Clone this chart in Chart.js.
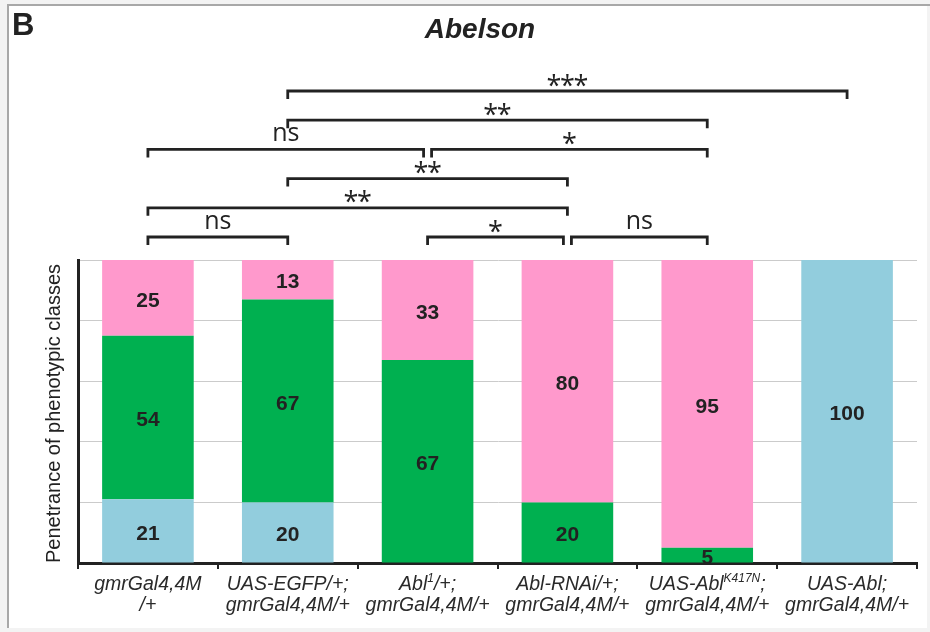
<!DOCTYPE html>
<html>
<head>
<meta charset="utf-8">
<script src="https://cdn.jsdelivr.net/npm/chart.js@4/dist/chart.umd.min.js"></script>
<style>
  html, body { margin: 0; padding: 0; background: #fff; }
  #wrap { width: 930px; height: 632px; }
</style>
</head>
<body>
<div id="wrap"><canvas id="c" width="930" height="632"></canvas></div>
<script>
// Genotypes (two text lines each, ^{...} marks a superscript)
const categories = [
  ['gmrGal4,4M', '/+'],
  ['UAS-EGFP/+;', 'gmrGal4,4M/+'],
  ['Abl^{1}/+;', 'gmrGal4,4M/+'],
  ['Abl-RNAi/+;', 'gmrGal4,4M/+'],
  ['UAS-Abl^{K417N};', 'gmrGal4,4M/+'],
  ['UAS-Abl;', 'gmrGal4,4M/+']
];
// Percent of flies in each phenotypic class
const blueValues  = [21, 20, 0, 0, 0, 100];
const greenValues = [54, 67, 67, 20, 5, 0];
const pinkValues  = [25, 13, 33, 80, 95, 0];
const yTicks = [0, 20, 40, 60, 80, 100];

// Pairwise tests: [first genotype, second genotype, result, stacking tier]
const comparisons = [
  [0, 1, 'ns', 0], [2, 3, '*', 0], [3, 4, 'ns', 0],
  [0, 3, '**', 1],
  [1, 3, '**', 2],
  [0, 2, 'ns', 3], [2, 4, '*', 3],
  [1, 4, '**', 4],
  [1, 5, '***', 5]
];

const plainLabels = categories.map(l => l.map(s => s.replace(/\^\{([^}]*)\}/g, '$1')));

const COLORS = { blue: '#92cddd', green: '#00b050', pink: '#ff99cc' };
const INK = '#222';

function drawRich(ctx, text, cx, baseline, size) {
  const parts = text.split(/(\^\{[^}]*\})/).filter(p => p.length);
  const supSize = Math.round(size * 0.62);
  const pieces = parts.map(p => {
    const sup = p.startsWith('^{');
    const t = sup ? p.slice(2, -1) : p;
    ctx.font = `italic ${sup ? supSize : size}px "Liberation Sans", Arial, sans-serif`;
    return { t, sup, w: ctx.measureText(t).width };
  });
  const total = pieces.reduce((a, p) => a + p.w, 0);
  let x = cx - total / 2;
  ctx.textAlign = 'left';
  ctx.textBaseline = 'alphabetic';
  for (const p of pieces) {
    ctx.font = `italic ${p.sup ? supSize : size}px "Liberation Sans", Arial, sans-serif`;
    ctx.fillText(p.t, x, p.sup ? baseline - size * 0.42 : baseline);
    x += p.w;
  }
}

const decor = {
  id: 'decor',
  beforeDraw(chart) {
    const ctx = chart.ctx;
    ctx.save();
    ctx.fillStyle = '#f3f3f3';
    ctx.fillRect(0, 0, chart.width, chart.height);
    ctx.fillStyle = '#ffffff';
    ctx.fillRect(8, 5, 919, 623);
    ctx.strokeStyle = '#a8a8a8';
    ctx.lineWidth = 2;
    ctx.beginPath();
    ctx.moveTo(8, 5); ctx.lineTo(chart.width, 5);
    ctx.moveTo(8, 4); ctx.lineTo(8, 628);
    ctx.stroke();
    ctx.restore();
  },
  afterDatasetsDraw(chart) {
    const ctx = chart.ctx;
    ctx.save();
    ctx.font = 'bold 21px "Liberation Sans", Arial, sans-serif';
    ctx.fillStyle = INK;
    ctx.textAlign = 'center';
    ctx.textBaseline = 'middle';
    chart.data.datasets.forEach((ds, di) => {
      const meta = chart.getDatasetMeta(di);
      meta.data.forEach((bar, i) => {
        const v = ds.data[i];
        if (!v) return;
        ctx.fillText(String(v), bar.x, (bar.y + bar.base) / 2 + 3);
      });
    });
    ctx.restore();
  },
  afterDraw(chart) {
    const ctx = chart.ctx;
    const xs = chart.scales.x;
    const area = chart.chartArea;
    ctx.save();
    ctx.fillStyle = INK;

    // panel letter and title
    ctx.textAlign = 'left';
    ctx.textBaseline = 'alphabetic';
    ctx.font = 'bold 31px "Liberation Sans", Arial, sans-serif';
    ctx.fillText('B', 12, 35);
    ctx.textAlign = 'center';
    ctx.font = 'italic bold 28px "Liberation Sans", Arial, sans-serif';
    ctx.fillText('Abelson', 480, 38);

    // y axis title
    ctx.save();
    ctx.translate(54, (area.top + area.bottom) / 2 + 2);
    ctx.rotate(-Math.PI / 2);
    ctx.font = '20px "Liberation Sans", Arial, sans-serif';
    ctx.textBaseline = 'middle';
    ctx.fillText('Penetrance of phenotypic classes', 0, 0);
    ctx.restore();

    // genotype labels
    ctx.fillStyle = '#2a2a2a';
    categories.forEach((lines, i) => {
      const cx = xs.getPixelForValue(i);
      lines.forEach((ln, k) => drawRich(ctx, ln, cx, 590 + k * 21, 19.5));
    });

    // significance brackets
    const tierY = t => 237 - t * 29.2;
    const shared = (c, tier, side) => comparisons.some(o => o[3] === tier && (side < 0 ? o[1] === c : o[0] === c));
    ctx.strokeStyle = INK;
    ctx.lineWidth = 2.8;
    ctx.lineCap = 'butt';
    comparisons.forEach(([a, b, txt, tier]) => {
      const y = tierY(tier);
      let x1 = xs.getPixelForValue(a);
      let x2 = xs.getPixelForValue(b);
      if (shared(a, tier, -1)) x1 += 4;
      if (shared(b, tier, 1)) x2 -= 4;
      ctx.beginPath();
      ctx.moveTo(x1, y + 8);
      ctx.lineTo(x1, y);
      ctx.lineTo(x2, y);
      ctx.lineTo(x2, y + 8);
      ctx.stroke();

      const mid = (x1 + x2) / 2;
      ctx.textAlign = 'center';
      ctx.textBaseline = 'alphabetic';
      ctx.fillStyle = INK;
      if (txt === 'ns') {
        ctx.font = '25px "Open Sans", "DejaVu Sans", sans-serif';
        const m = ctx.measureText(txt);
        const glyphMid = (m.actualBoundingBoxAscent - m.actualBoundingBoxDescent) / 2;
        ctx.fillText(txt, mid, y - 15 + glyphMid);
      } else {
        // stars set closely, one glyph at a time
        ctx.font = '27px "Open Sans", "DejaVu Sans", sans-serif';
        const m = ctx.measureText('*');
        const glyphMid = (m.actualBoundingBoxAscent - m.actualBoundingBoxDescent) / 2;
        const step = 13.5;
        const n = txt.length;
        for (let k = 0; k < n; k++) {
          ctx.fillText('*', mid + (k - (n - 1) / 2) * step, y - 11 + glyphMid);
        }
      }
    });
    ctx.restore();
  }
};

new Chart(document.getElementById('c'), {
  type: 'bar',
  data: {
    labels: plainLabels,
    datasets: [
      { label: 'class 1', data: blueValues, backgroundColor: COLORS.blue },
      { label: 'class 2', data: greenValues, backgroundColor: COLORS.green },
      { label: 'class 3', data: pinkValues, backgroundColor: COLORS.pink }
    ]
  },
  options: {
    responsive: false,
    animation: false,
    events: [],
    layout: { padding: { left: 8, top: 260, right: 13, bottom: 0 } },
    datasets: { bar: { barPercentage: 0.655, categoryPercentage: 1, borderWidth: 0 } },
    plugins: { legend: { display: false }, title: { display: false }, tooltip: { enabled: false } },
    scales: {
      x: {
        stacked: true,
        offset: true,
        ticks: { display: false },
        grid: { display: true, offset: true, drawOnChartArea: false, drawTicks: true, tickLength: 6, color: INK, lineWidth: 2 },
        border: { display: true, color: INK, width: 3 },
        afterFit: s => { s.height = 69; }
      },
      y: {
        stacked: true,
        min: 0,
        max: 100,
        afterBuildTicks: s => { s.ticks = yTicks.map(v => ({ value: v })); },
        ticks: { display: false },
        grid: { color: '#cbcbcb', lineWidth: 1, drawTicks: false },
        border: { display: true, color: INK, width: 3 },
        afterFit: s => { s.width = 70; }
      }
    }
  },
  plugins: [decor]
});
</script>
</body>
</html>
